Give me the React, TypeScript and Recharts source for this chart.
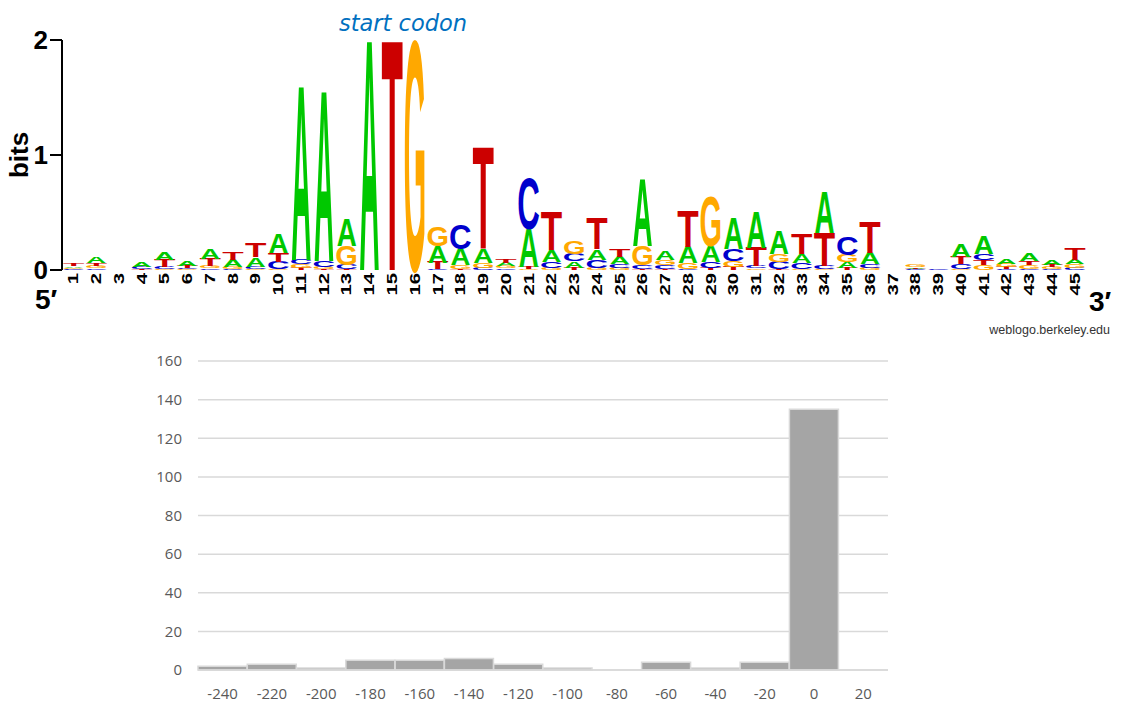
import { BarChart, Bar, XAxis, YAxis, CartesianGrid } from 'recharts';

// sequence logo: information (bits) per letter at each position
const positions = [
  1, 2, 3, 4, 5, 6, 7, 8, 9, 10, 11, 12, 13, 14, 15, 16, 17, 18, 19, 20, 21, 22, 23,
  24, 25, 26, 27, 28, 29, 30, 31, 32, 33, 34, 35, 36, 37, 38, 39, 40, 41, 42, 43, 44, 45,
];

const bitsA = [
  0.015, 0.05, 0, 0.04, 0.07, 0.045, 0.09, 0.06, 0.08, 0.17, 1.5, 1.47, 0.23, 1.98, 0, 0,
  0.14, 0.14, 0.12, 0.03, 0.33, 0.1, 0.055, 0.09, 0.06, 0.58, 0.08, 0.14, 0.14, 0.27, 0.31,
  0.2, 0.08, 0.35, 0.05, 0.1, 0, 0.015, 0, 0.11, 0.15, 0.04, 0.07, 0.04, 0.04,
];
const bitsC = [
  0.008, 0.015, 0, 0.02, 0.02, 0.01, 0.015, 0.005, 0.025, 0.06, 0.04, 0.05, 0.04, 0, 0, 0,
  0.005, 0.21, 0.02, 0.015, 0.43, 0.05, 0.065, 0.07, 0.03, 0.03, 0.03, 0.01, 0.05, 0.1, 0.02,
  0.06, 0.05, 0.03, 0.15, 0.03, 0, 0.005, 0.015, 0.04, 0.055, 0.005, 0.01, 0.005, 0.02,
];
const bitsG = [
  0.012, 0.02, 0, 0, 0.005, 0.005, 0.02, 0.02, 0.005, 0.01, 0.03, 0.02, 0.16, 0, 0, 1.97,
  0.17, 0.03, 0.04, 0.02, 0.005, 0.02, 0.11, 0.02, 0.02, 0.17, 0.045, 0.05, 0.42, 0.05, 0.015,
  0.07, 0.01, 0.005, 0.06, 0.02, 0, 0.018, 0, 0.01, 0.04, 0.03, 0.03, 0.02, 0.03,
];
const bitsT = [
  0.02, 0.025, 0, 0.01, 0.06, 0.02, 0.06, 0.07, 0.12, 0.08, 0.02, 0.005, 0.005, 0, 1.98, 0,
  0.06, 0.01, 0.88, 0.035, 0.02, 0.33, 0.02, 0.27, 0.065, 0.01, 0.01, 0.31, 0.02, 0.03, 0.16,
  0.01, 0.18, 0.29, 0.02, 0.27, 0, 0.008, 0, 0.06, 0.045, 0.02, 0.035, 0.02, 0.1,
];

// histogram of start positions
const binLabels = ['-240', '-220', '-200', '-180', '-160', '-140', '-120', '-100', '-80', '-60', '-40', '-20', '0', '20'];
const binCounts = [2, 3, 1, 5, 5, 6, 3, 1, 0, 4, 1, 4, 135, 0];
const countTicks = [0, 20, 40, 60, 80, 100, 120, 140, 160];

const LETTER_COLORS: Record<string, string> = {
  A: '#00c800',
  C: '#0000cc',
  G: '#ffa800',
  T: '#cc0000',
};

// ink left edge and ink width of the bold glyphs, in em
const GLYPH: Record<string, { l: number; w: number }> = {
  A: { l: 0.0, w: 0.722 },
  C: { l: 0.045, w: 0.64 },
  G: { l: 0.045, w: 0.69 },
  T: { l: 0.02, w: 0.57 },
};
const CAP = 68.8; // Liberation Sans cap height at 100px

const bitsByLetter: Record<string, number[]> = { A: bitsA, C: bitsC, G: bitsG, T: bitsT };

const logoData = positions.map((p, i) => {
  const stack = Object.keys(bitsByLetter)
    .map((ch) => ({ ch, h: bitsByLetter[ch][i] }))
    .sort((a, b) => a.h - b.h);
  const row: Record<string, string | number> = { pos: String(p) };
  stack.forEach((s, k) => {
    row[`h${k}`] = s.h;
    row[`l${k}`] = s.ch;
  });
  return row;
});

const histData = binLabels.map((bin, i) => ({ bin, count: binCounts[i] }));

const logoFont = '"Liberation Sans", Arial, sans-serif';

function letterShape(rank: number) {
  return (props: any) => {
    const { x, y, width, height, payload } = props;
    const ch = payload?.[`l${rank}`];
    if (!ch || !(height > 0.3)) return <g />;
    const g = GLYPH[ch];
    const sx = width / (g.w * 100);
    const sy = height / CAP;
    return (
      <text
        transform={`translate(${x - g.l * 100 * sx},${y + height}) scale(${sx},${sy})`}
        fontSize={100}
        fontFamily={logoFont}
        fontWeight="bold"
        fill={LETTER_COLORS[ch]}
      >
        {ch}
      </text>
    );
  };
}

// numbers under the logo: rotated, drawn tall and narrow
const PositionTick = ({ x, y, payload }: any) => (
  <text
    transform={`translate(${x},${y}) rotate(-90) scale(1.35,1)`}
    textAnchor="end"
    dominantBaseline="central"
    fontSize={15}
    fontWeight="bold"
    fontFamily={logoFont}
    fill="#000"
  >
    {payload.value}
  </text>
);

export default function App() {
  return (
    <div style={{ position: 'absolute', left: 0, top: 0, width: 1124, height: 704, background: '#fff' }}>
      <div style={{ position: 'absolute', left: 0, top: 0 }}>
        <BarChart
          width={1124}
          height={340}
          data={logoData}
          margin={{ top: 40, right: 38, left: 10, bottom: 30 }}
          barCategoryGap="7%"
        >
          <XAxis
            dataKey="pos"
            interval={0}
            axisLine={false}
            tickLine={false}
            tickSize={0}
            tickMargin={3}
            height={40}
            tick={<PositionTick />}
          />
          <YAxis
            domain={[0, 2]}
            ticks={[0, 1, 2]}
            width={52}
            axisLine={{ stroke: '#000', strokeWidth: 2 }}
            tickLine={{ stroke: '#000', strokeWidth: 2 }}
            tickSize={12}
            tickMargin={2}
            tick={{ fontSize: 26, fontWeight: 'bold', fill: '#000', fontFamily: logoFont }}
          />
          {[0, 1, 2, 3].map((k) => (
            <Bar key={k} dataKey={`h${k}`} stackId="logo" shape={letterShape(k)} isAnimationActive={false} />
          ))}
        </BarChart>
      </div>

      <svg width={1124} height={340} style={{ position: 'absolute', left: 0, top: 0, pointerEvents: 'none' }}>
        <text
          x={339}
          y={31}
          fontSize={22.5}
          fontStyle="italic"
          fontFamily='"DejaVu Sans", sans-serif'
          fill="#0070c0"
        >
          start codon
        </text>
        <text
          transform="translate(28,155) rotate(-90)"
          textAnchor="middle"
          fontSize={26}
          fontWeight="bold"
          fontFamily={logoFont}
        >
          bits
        </text>
        <text x={35} y={309} fontSize={28} fontWeight="bold" fontFamily={logoFont}>
          5′
        </text>
        <text x={1089} y={311} fontSize={28} fontWeight="bold" fontFamily={logoFont}>
          3′
        </text>
        <text x={1110} y={334} textAnchor="end" fontSize={12.5} fontFamily={logoFont} fill="#333">
          weblogo.berkeley.edu
        </text>
      </svg>

      <div style={{ position: 'absolute', left: 130, top: 340 }}>
        <BarChart
          width={780}
          height={364}
          data={histData}
          margin={{ top: 21, right: 22, left: 18, bottom: 4 }}
          barCategoryGap={0}
        >
          <CartesianGrid vertical={false} stroke="#d9d9d9" strokeWidth={1.5} />
          <XAxis
            dataKey="bin"
            interval={0}
            height={30}
            axisLine={{ stroke: '#d9d9d9', strokeWidth: 1.5 }}
            tickLine={false}
            tickMargin={12}
            tick={{ fontSize: 15, fill: '#595959', fontFamily: '"Open Sans", sans-serif' }}
          />
          <YAxis
            domain={[0, 160]}
            ticks={countTicks}
            width={50}
            axisLine={false}
            tickLine={false}
            tickMargin={10}
            tick={{ fontSize: 15, fill: '#595959', fontFamily: '"Open Sans", sans-serif' }}
          />
          <Bar dataKey="count" fill="#a5a5a5" stroke="#d9d9d9" strokeWidth={1.5} isAnimationActive={false} />
        </BarChart>
      </div>
    </div>
  );
}
